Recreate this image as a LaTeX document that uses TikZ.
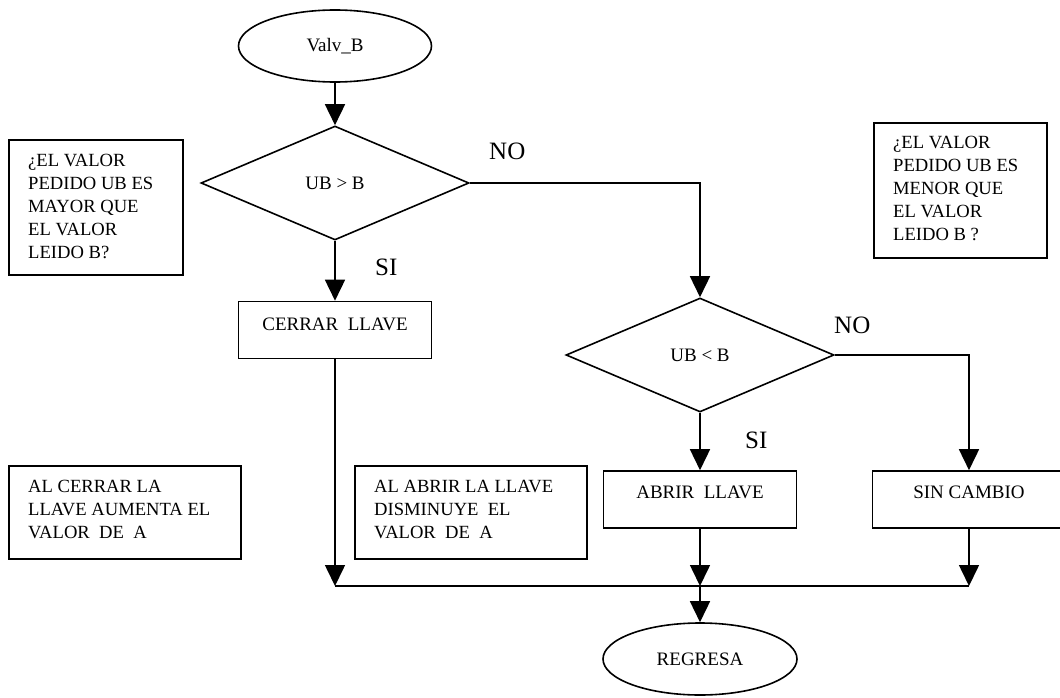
\documentclass[tikz,border=0pt]{standalone}
\usepackage{fontspec}
\setmainfont{Liberation Serif}
\usetikzlibrary{shapes.geometric,arrows.meta}
\begin{document}
\begin{tikzpicture}[x=1pt,y=-1pt,
  shp/.style={draw, line width=1.6pt, inner sep=0pt},
  proc/.style={shp, rectangle, minimum width=193pt, minimum height=57pt},
  dec/.style={shp, diamond, minimum width=268pt, minimum height=114pt},
  term/.style={shp, ellipse, minimum width=193pt, minimum height=72pt},
  note/.style={draw, rectangle, line width=1.6pt, inner sep=0pt, anchor=north west},
  txt/.style={font=\fontsize{19}{23}\selectfont, inner sep=0pt},
  ntxt/.style={font=\fontsize{18.6}{23}\selectfont, inner sep=0pt, align=left, anchor=north west},
  big/.style={font=\fontsize{25}{30}\selectfont, inner sep=0pt, anchor=base west},
  arr/.style={-{Triangle[length=21pt,width=20pt]}, line width=1.6pt},
  ln/.style={line width=1.6pt}]
\useasboundingbox (0,0) rectangle (1060,698);
\fill[white] (0,0) rectangle (1060,698);
\clip (0,0) rectangle (1060,698);

% flow nodes
\node[term] (start) at (335,46) {};
\node[txt] (tstart) at (start.center) {Valv\_B};
\node[dec] (d1) at (335,183) {};
\node[txt] (td1) at (d1.center) {UB > B};
\node[proc] (cerrar) at (335,330) {};
\node[txt, anchor=base] (tcerrar) at ([yshift=-30pt]cerrar.north) {CERRAR\ \ LLAVE};
\node[dec] (d2) at (700,355) {};
\node[txt] (td2) at (d2.center) {UB < B};
\node[proc] (abrir) at (700,499.5) {};
\node[txt, anchor=base] (tabrir) at ([yshift=-28pt]abrir.north) {ABRIR\ \ LLAVE};
\node[proc] (sin) at (969,499.5) {};
\node[txt, anchor=base] (tsin) at ([yshift=-28pt]sin.north) {SIN CAMBIO};
\node[term, minimum width=194pt] (end) at (700,659) {};
\node[txt] (tend) at (end.center) {REGRESA};

% labels
\node[big] (no1) at (489,160) {NO};
\node[big] (si1) at (375,275) {SI};
\node[big] (no2) at (834,333) {NO};
\node[big] (si2) at (745,448) {SI};

% notes
\node[note, minimum width=174pt, minimum height=135pt] (n1) at (8,139) {};
\node[ntxt] (tn1) at ([xshift=20pt,yshift=-15pt]n1.north west)
  {¿EL VALOR\\PEDIDO UB ES\\MAYOR QUE\\EL VALOR\\LEIDO B?};
\node[note, minimum width=173pt, minimum height=135pt] (n2) at (873,122) {};
\node[ntxt] (tn2) at ([xshift=20pt,yshift=-14pt]n2.north west)
  {¿EL VALOR\\PEDIDO UB ES\\MENOR QUE\\EL VALOR\\LEIDO B ?};
\node[note, minimum width=232pt, minimum height=93pt] (n3) at (8,465) {};
\node[ntxt] (tn3) at ([xshift=20pt,yshift=-15pt]n3.north west)
  {AL CERRAR LA\\LLAVE AUMENTA EL\\VALOR\ \ DE\ \ A};
\node[note, minimum width=232pt, minimum height=93pt] (n4) at (354,465) {};
\node[ntxt] (tn4) at ([xshift=20pt,yshift=-15pt]n4.north west)
  {AL ABRIR LA LLAVE\\DISMINUYE\ \ EL\\VALOR\ \ DE\ \ A};

% merge coordinates
\coordinate (m1) at (335,586);
\coordinate (m2) at (700,586);
\coordinate (m3) at (969,586);

% connectors
\draw[arr] (start.south) -- (d1.north);
\draw[arr] (d1.south) -- (cerrar.north);
\draw[arr] (d1.east) -| (d2.north);
\draw[arr] (d2.south) -- (abrir.north);
\draw[arr] (d2.east) -| (sin.north);
\draw[arr] (cerrar.south) -- (m1);
\draw[arr] (abrir.south) -- (m2);
\draw[arr] (sin.south) -- (m3);
\draw[ln] (m1) -- (m3);
\draw[arr] (m2) -- (end.north);
\end{tikzpicture}
\end{document}
